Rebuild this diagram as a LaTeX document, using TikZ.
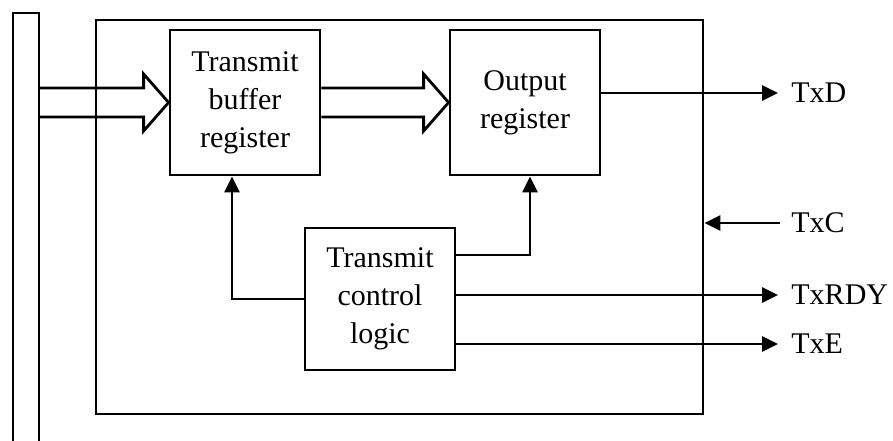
\documentclass[tikz,border=0pt]{standalone}
\usepackage{fontspec}
\setmainfont{Liberation Serif}
\usetikzlibrary{arrows.meta}
\begin{document}
\begin{tikzpicture}[x=1pt,y=-1pt,
  line width=2.8pt, line join=miter,
  blockbox/.style={draw, rectangle, inner sep=0pt, align=center,
    font=\fontsize{30}{38}\selectfont},
  sig/.style={-{Triangle[length=16pt,width=15pt]}},
  lbl/.style={anchor=west, inner sep=0pt, font=\fontsize{30}{34}\selectfont}]
  \useasboundingbox (0,0) rectangle (893,441);

  % system bus on the left
  \draw (13,445) -- (13,13) -- (39,13) -- (39,445);

  % transmitter enclosure
  \node[draw, rectangle, minimum width=607pt, minimum height=394pt, inner sep=0pt]
    (outer) at (399.5,217) {};

  % registers and control block
  \node[blockbox, minimum width=150pt, minimum height=145pt] (tbr) at (245,102.5)
    {Transmit\\buffer\\register};
  \node[blockbox, minimum width=150pt, minimum height=145pt] (outreg) at (525,102.5)
    {Output\\register};
  \node[blockbox, minimum width=150pt, minimum height=142pt] (ctl) at (380,299)
    {Transmit\\control\\logic};

  % hollow data-path arrows
  \coordinate (bus) at (39,102.5);
  \draw ([yshift=-14.5pt]bus) -- ([xshift=-25pt,yshift=-14.5pt]tbr.west)
    -- ([xshift=-25pt,yshift=-28.5pt]tbr.west) -- (tbr.west)
    -- ([xshift=-25pt,yshift=28.5pt]tbr.west) -- ([xshift=-25pt,yshift=14.5pt]tbr.west)
    -- ([yshift=14.5pt]bus);
  \draw ([yshift=-14.5pt]tbr.east) -- ([xshift=-25pt,yshift=-14.5pt]outreg.west)
    -- ([xshift=-25pt,yshift=-28.5pt]outreg.west) -- (outreg.west)
    -- ([xshift=-25pt,yshift=28.5pt]outreg.west) -- ([xshift=-25pt,yshift=14.5pt]outreg.west)
    -- ([yshift=14.5pt]tbr.east);

  % control lines to the registers
  \draw[sig] (ctl.west) -| ([xshift=-13pt]tbr.south);
  \draw[sig] ([yshift=44pt]ctl.east) -| ([xshift=5pt]outreg.south);

  % external signals
  \coordinate (txd) at (778,93);
  \coordinate (txc) at (780,223);
  \coordinate (txrdy) at (778,295);
  \coordinate (txe) at (778,344);
  \draw[sig] (outreg.east |- txd) -- (txd);
  \draw[sig] (txc) -- (outer.east |- txc);
  \draw[sig] (ctl.east |- txrdy) -- (txrdy);
  \draw[sig] (ctl.east |- txe) -- (txe);

  \node[lbl] (ltxd) at (790,93) {TxD};
  \node[lbl] (ltxc) at (790,223) {TxC};
  \node[lbl] (ltxrdy) at (790,295) {TxRDY};
  \node[lbl] (ltxe) at (790,344) {TxE};
\end{tikzpicture}
\end{document}
